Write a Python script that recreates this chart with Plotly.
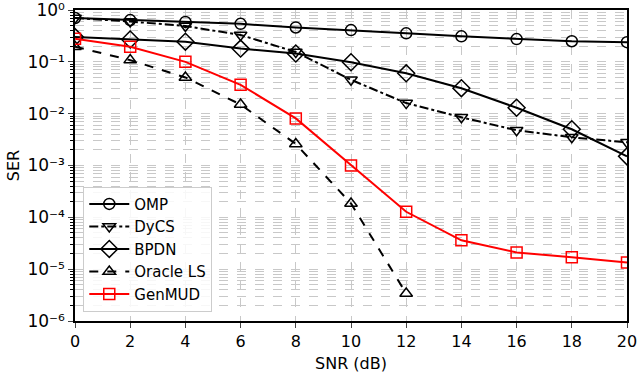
import plotly.graph_objects as go

# ── Data ──
SNR = [0, 2, 4, 6, 8, 10, 12, 14, 16, 18, 20]
OMP = [0.70, 0.64, 0.59, 0.54, 0.46, 0.41, 0.355, 0.31, 0.275, 0.25, 0.24]
DYCS = [0.70, 0.60, 0.49, 0.33, 0.155, 0.045, 0.016, 0.0085, 0.0048, 0.0035, 0.0028]
BPDN = [0.30, 0.27, 0.245, 0.18, 0.145, 0.098, 0.06, 0.031, 0.013, 0.005, 0.0015]
ORACLE_SNR = [0, 2, 4, 6, 8, 10, 12]
ORACLE = [0.196, 0.108, 0.05, 0.015, 0.0026, 1.85e-4, 3.4e-6]
GENMUD = [0.28, 0.196, 0.10, 0.036, 0.0081, 1.0e-3, 1.28e-4, 3.6e-5, 2.1e-5, 1.7e-5, 1.35e-5]

Y_TICKS = [1e-6, 1e-5, 1e-4, 1e-3, 1e-2, 1e-1, 1]
Y_LABELS = ['10⁻⁶', '10⁻⁵', '10⁻⁴', '10⁻³', '10⁻²', '10⁻¹', '10⁰']

FONT = 'DejaVu Sans, sans-serif'
GRID = '#c8c8c8'

fig = go.Figure()


def add(x, y, name, symbol, color='black', dash='solid', size=11):
    fig.add_trace(go.Scatter(
        x=x, y=y, name=name, mode='lines+markers',
        line=dict(color=color, width=2, dash=dash),
        marker=dict(symbol=symbol, size=size, color='rgba(255,255,255,0)',
                    line=dict(color=color, width=1.5)),
    ))


add(SNR, OMP, 'OMP', 'circle')
add(SNR, DYCS, 'DyCS', 'triangle-down', dash='dashdot')
add(SNR, BPDN, 'BPDN', 'diamond', size=13)
add(ORACLE_SNR, ORACLE, 'Oracle LS', 'triangle-up', dash='dash')
add(SNR, GENMUD, 'GenMUD', 'square', color='#ff0000')

fig.update_layout(
    width=638, height=372,
    paper_bgcolor='white', plot_bgcolor='white',
    font=dict(family=FONT, size=16, color='black'),
    margin=dict(l=75, r=11, t=10, b=51),
    showlegend=True,
    legend=dict(x=0.015, y=0.03, xanchor='left', yanchor='bottom',
                bgcolor='rgba(255,255,255,0.85)', bordercolor='#cccccc', borderwidth=1,
                font=dict(family=FONT, size=15), tracegroupgap=0, itemwidth=40),
    xaxis=dict(
        range=[0, 20], tickvals=SNR, ticks='outside', ticklen=5, tickwidth=1.2,
        showline=True, linecolor='black', linewidth=1.5, mirror=True, automargin=False,
        showgrid=True, gridcolor=GRID, griddash='dash', gridwidth=1, zeroline=False,
        tickfont=dict(size=16), ticklabeloverflow='allow',
    ),
    yaxis=dict(
        type='log', range=[-6, 0], tickvals=Y_TICKS, ticktext=Y_LABELS,
        ticks='outside', ticklen=5, tickwidth=1.2, automargin=False,
        showline=True, linecolor='black', linewidth=1.5, mirror=True,
        showgrid=True, gridcolor=GRID, griddash='dash', gridwidth=1, zeroline=False,
        minor=dict(dtick='D1', showgrid=True, gridcolor=GRID, griddash='dash',
                   ticks='outside', ticklen=3, tickcolor='black'),
        title=dict(text='SER', standoff=4, font=dict(size=16)),
        tickfont=dict(size=17), ticklabeloverflow='allow',
    ),
    annotations=[dict(text='SNR (dB)', xref='paper', yref='paper', x=0.5, y=0,
                      yshift=-31, xanchor='center', yanchor='top', showarrow=False,
                      font=dict(size=16))],
)

# drop the default 8px body margin so the figure fills the window
fig.write_html('out.html', config={'displayModeBar': False},
               post_script="document.body.style.margin='0';")
